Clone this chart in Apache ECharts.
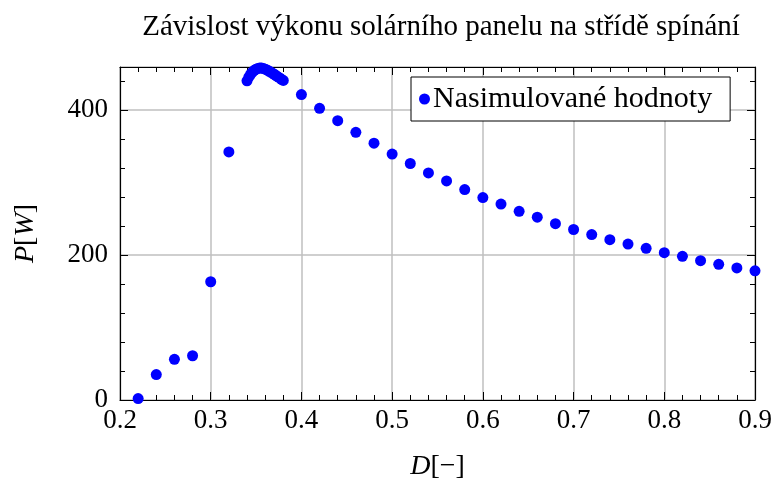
<!DOCTYPE html>
<html>
<head>
<meta charset="utf-8">
<script src="https://cdn.jsdelivr.net/npm/echarts@6/dist/echarts.min.js"></script>
<style>
  html, body { margin: 0; padding: 0; background: #fff; }
  #chart { width: 777px; height: 480px; }
</style>
</head>
<body>
<div id="chart"></div>
<script>
// Duty cycle D [-] of the switching converter
const dutyCycle = [
  0.22, 0.24, 0.26, 0.28, 0.30, 0.32,
  0.340, 0.342, 0.344, 0.346, 0.348, 0.350, 0.352, 0.354, 0.356, 0.358,
  0.360, 0.362, 0.364, 0.366, 0.368, 0.370, 0.372, 0.374, 0.376, 0.378, 0.380,
  0.40, 0.42, 0.44, 0.46, 0.48, 0.50, 0.52, 0.54, 0.56, 0.58,
  0.60, 0.62, 0.64, 0.66, 0.68, 0.70, 0.72, 0.74, 0.76, 0.78,
  0.80, 0.82, 0.84, 0.86, 0.88, 0.90
];
// Simulated panel output power P [W]
const power = [
  2, 35, 56, 61, 163, 342,
  440, 445, 449, 452, 454.5, 456, 457, 457.5, 457.5, 457,
  456, 455, 453.5, 452, 450.5, 449, 447, 445.5, 444, 442, 440.5,
  421, 402, 385, 369, 354, 339, 326, 313, 302, 290,
  279, 270, 260, 252, 243, 235, 228, 221, 215, 209,
  203, 198, 192, 187, 182, 178
];
const xTicks = [0.2, 0.3, 0.4, 0.5, 0.6, 0.7, 0.8, 0.9];
const yTicks = [0, 200, 400];

const titleText = 'Závislost výkonu solárního panelu na střídě spínání';
const seriesName = 'Nasimulované hodnoty';

const FONT = '"Liberation Serif", "DejaVu Serif", serif';
const X_MIN = 0.2, X_MAX = 0.9, Y_MIN = 0, Y_MAX = 459;

const points = dutyCycle.map((d, i) => [d, power[i]]);

const tickStyle = { show: true, inside: true, length: 8, lineStyle: { color: '#000', width: 1 } };
const minorStyle = { show: true, splitNumber: 5, length: 5, lineStyle: { color: '#000', width: 1 } };
const lineStyle = { show: true, onZero: false, lineStyle: { color: '#000', width: 1.2 } };

const chart = echarts.init(document.getElementById('chart'), null, { renderer: 'canvas' });
chart.setOption({
  animation: false,
  backgroundColor: '#fff',
  textStyle: { fontFamily: FONT },
  title: {
    text: titleText,
    left: 436,
    textAlign: 'center',
    top: 8,
    textStyle: { fontFamily: FONT, fontSize: 29, fontWeight: 'normal', color: '#000' }
  },
  legend: {
    data: [seriesName],
    left: 411,
    top: 77,
    orient: 'horizontal',
    icon: 'circle',
    itemWidth: 11,
    itemHeight: 11,
    itemGap: 4,
    padding: [7, 18, 7, 8],
    backgroundColor: '#fff',
    borderColor: '#000',
    borderWidth: 1,
    borderRadius: 0,
    textStyle: { fontFamily: FONT, fontSize: 30, color: '#000', padding: [0, 0, 0, -2] }
  },
  grid: {
    left: 120, right: 22, top: 67, bottom: 80,
    show: false, containLabel: false, outerBoundsMode: 'none'
  },
  xAxis: [
    {
      type: 'value', min: X_MIN, max: X_MAX, interval: 0.1,
      name: '{i|D}[−]',
      nameLocation: 'middle',
      nameGap: 53,
      nameTextStyle: {
        fontFamily: FONT, fontSize: 28, color: '#000',
        rich: { i: { fontFamily: FONT, fontSize: 28, fontStyle: 'italic', color: '#000' } }
      },
      axisLine: lineStyle,
      axisTick: tickStyle,
      minorTick: minorStyle,
      splitLine: { show: true, lineStyle: { color: '#bfbfbf', width: 1.5 } },
      axisLabel: {
        margin: 7,
        fontFamily: FONT, fontSize: 27, color: '#000',
        formatter: v => {
          const t = xTicks.find(x => Math.abs(x - v) < 1e-6);
          return t === undefined ? '' : String(t);
        }
      }
    },
    {
      type: 'value', position: 'top', min: X_MIN, max: X_MAX, interval: 0.1,
      axisLine: lineStyle,
      axisTick: tickStyle,
      minorTick: minorStyle,
      splitLine: { show: false },
      axisLabel: { show: false }
    }
  ],
  yAxis: [
    {
      type: 'value', min: Y_MIN, max: Y_MAX, interval: 200,
      name: '{i|P}[{i|W}]',
      nameLocation: 'middle',
      nameGap: 80,
      nameRotate: 90,
      nameTextStyle: {
        fontFamily: FONT, fontSize: 28, color: '#000',
        rich: { i: { fontFamily: FONT, fontSize: 28, fontStyle: 'italic', color: '#000' } }
      },
      axisLine: lineStyle,
      axisTick: tickStyle,
      minorTick: minorStyle,
      splitLine: { show: true, lineStyle: { color: '#bfbfbf', width: 1.5 } },
      axisLabel: {
        margin: 12,
        showMaxLabel: false,
        fontFamily: FONT, fontSize: 27, color: '#000',
        formatter: v => (yTicks.includes(v) ? String(v) : '')
      }
    },
    {
      type: 'value', position: 'right', min: Y_MIN, max: Y_MAX, interval: 200,
      axisLine: lineStyle,
      axisTick: tickStyle,
      minorTick: minorStyle,
      splitLine: { show: false },
      axisLabel: { show: false }
    }
  ],
  series: [
    {
      name: seriesName,
      type: 'scatter',
      xAxisIndex: 0,
      yAxisIndex: 0,
      symbol: 'circle',
      symbolSize: 11,
      itemStyle: { color: '#0000ff', opacity: 1 },
      data: points,
      z: 5
    }
  ]
});
</script>
</body>
</html>
